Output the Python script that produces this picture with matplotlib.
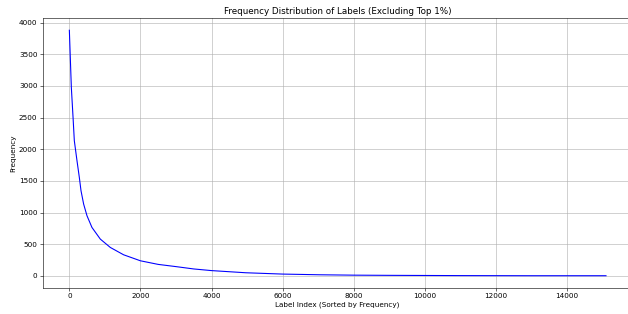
import matplotlib
matplotlib.use('Agg')
import matplotlib.pyplot as plt

# label index (sorted by frequency) and frequency
label_index = [0, 56, 104, 140, 215, 281, 328, 402, 496, 636, 871, 1152,
               1526, 2000, 2500, 3000, 3500, 4000, 4963, 6000, 7050, 8000, 9000,
               10000, 11000, 12000, 13000, 14000, 15100]
frequency = [3880, 2977, 2503, 2134, 1818, 1554, 1344, 1133, 949, 764, 580, 448,
             332, 237, 180, 145, 108, 82, 48, 27, 16, 10, 7,
             5, 3, 2, 1, 1, 1]

fig = plt.figure(figsize=(12, 6), dpi=628 / 12)
ax = fig.add_axes([0.0677, 0.0828, 0.94, 0.86])

ax.plot(label_index, frequency, color='blue', linewidth=1.5)
ax.set_title('Frequency Distribution of Labels (Excluding Top 1%)')
ax.set_xlabel('Label Index (Sorted by Frequency)')
ax.set_ylabel('Frequency')
ax.grid(True)

fig.savefig('out.png', dpi=628 / 12)
